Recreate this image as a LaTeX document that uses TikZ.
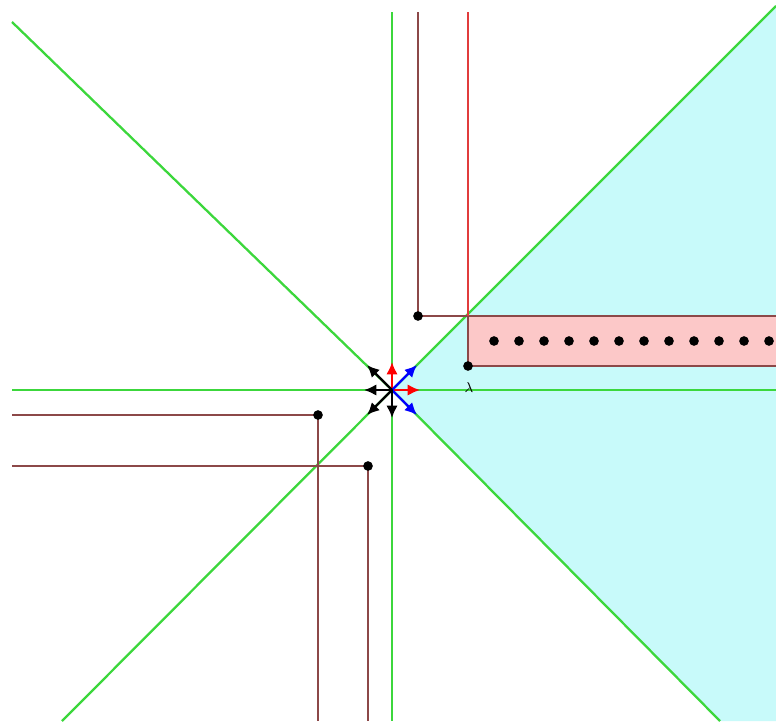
\documentclass[tikz,border=0pt]{standalone}
\usepackage{amsmath}
\usepackage{tikz}
\usetikzlibrary{arrows.meta}

\definecolor{lgreen}{RGB}{60,215,60}
\definecolor{lbrown}{RGB}{140,72,72}
\definecolor{lred}{RGB}{225,60,60}
\definecolor{lcyan}{RGB}{200,250,250}
\definecolor{lpink}{RGB}{252,200,200}

\begin{document}
\begin{tikzpicture}[x=0.02cm, y=-0.02cm,
    axis/.style={draw=lgreen, line width=1.3pt},
    wall/.style={draw=lbrown, line width=1.3pt},
    dot/.style={circle, fill=black, inner sep=0pt, minimum size=5.5pt},
    dirarrow/.style={-{Latex[length=7pt,width=6.5pt]}, line width=1.3pt}]
    \useasboundingbox (0,0) rectangle (776,721);

    % centre and corners
    \coordinate (O) at (392,390);
    \coordinate (A) at (418,316);
    \coordinate (B) at (468,366);
    \coordinate (C) at (318,415);
    \coordinate (D) at (368,466);

    % shaded regions
    \fill[lcyan] (O) -- (776,6) -- (776,721) -- (720,721) -- cycle;
    \fill[lpink] (468,316) rectangle (776,366);

    % green lines
    \draw[axis] (12,390) -- (776,390);
    \draw[axis] (392,12) -- (392,721);
    \draw[axis] (12,22) -- (O) -- (720,721);
    \draw[axis] (776,6) -- (O) -- (62,721);

    % upper right walls
    \draw[wall] (418,12) -- (A) -- (776,316);
    \draw[wall] (B) -- (776,366);
    \draw[draw=lred, line width=1.3pt] (468,12) -- (468,316);
    \draw[wall] (468,316) -- (B);

    % lower left walls
    \draw[wall] (12,415) -- (C) -- (318,721);
    \draw[wall] (12,466) -- (D) -- (368,721);

    % corner dots
    \foreach \p in {A,B,C,D}
        \node[dot] at (\p) {};

    % row of dots in the strip
    \foreach \i in {0,...,11}
        \node[dot] at (494+25*\i,341) {};

    \node[font=\footnotesize, inner sep=0pt] (lam) at (469,388) {$\lambda$};

    % direction arrows
    \draw[dirarrow, draw=red, fill=red] (O) -- ++(0,-28);
    \draw[dirarrow, draw=red, fill=red] (O) -- ++(28,0);
    \draw[dirarrow, draw=blue, fill=blue] (O) -- ++(25,-25);
    \draw[dirarrow, draw=blue, fill=blue] (O) -- ++(25,25);
    \draw[dirarrow] (O) -- ++(-25,-25);
    \draw[dirarrow] (O) -- ++(-28,0);
    \draw[dirarrow] (O) -- ++(-25,25);
    \draw[dirarrow] (O) -- ++(0,28);
\end{tikzpicture}
\end{document}
